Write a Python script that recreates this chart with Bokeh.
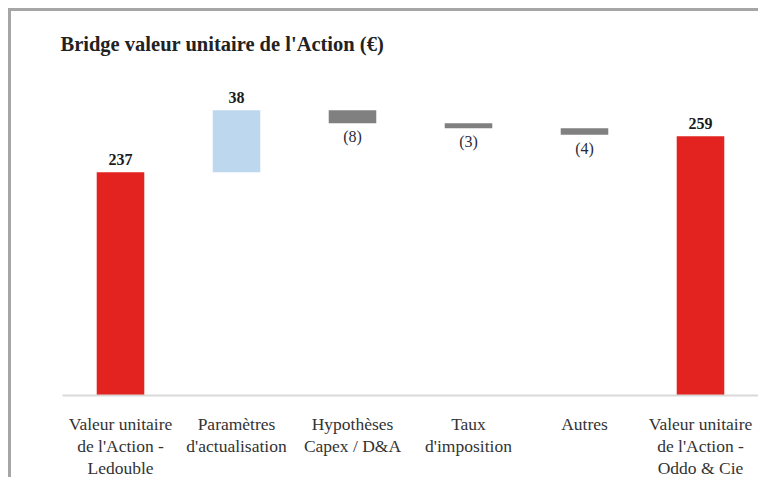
from bokeh.plotting import figure
from bokeh.models import ColumnDataSource, FactorRange
from bokeh.core.properties import value
from bokeh.embed import file_html
from bokeh.resources import INLINE

# ---- data ----
categories = [
    "Valeur unitaire\nde l'Action -\nLedouble",
    "Paramètres\nd'actualisation",
    "Hypothèses\nCapex / D&A",
    "Taux\nd'imposition",
    "Autres",
    "Valeur unitaire\nde l'Action -\nOddo & Cie",
]
values = [237, 38, -8, -3, -4, 259]
kinds = ["total", "step", "step", "step", "step", "total"]
value_labels = ["237", "38", "(8)", "(3)", "(4)", "259"]
axis_start = 100

# ---- waterfall geometry from the data ----
bottoms, tops, colors = [], [], []
running = 0
for v, k in zip(values, kinds):
    if k == "total":
        b, t = 0, v
        running = v
        colors.append("#E2231F")
    else:
        b, t = running, running + v
        running = t
        colors.append("#BDD7EE" if v > 0 else "#808080")
    bottoms.append(min(b, t))
    tops.append(max(b, t))

src = ColumnDataSource(dict(cat=categories, bottom=bottoms, top=tops, color=colors))

up_idx = [i for i, v in enumerate(values) if v > 0]
dn_idx = [i for i, v in enumerate(values) if v < 0]
up_src = ColumnDataSource(dict(cat=[categories[i] for i in up_idx],
                               y=[tops[i] for i in up_idx],
                               label=[value_labels[i] for i in up_idx]))
dn_src = ColumnDataSource(dict(cat=[categories[i] for i in dn_idx],
                               y=[bottoms[i] for i in dn_idx],
                               label=[value_labels[i] for i in dn_idx]))

p = figure(
    x_range=FactorRange(*categories),
    y_range=(axis_start, 298.8),
    width=750, height=469,
    output_backend="svg", toolbar_location=None,
    min_border_left=51, min_border_right=3,
    min_border_top=60, min_border_bottom=77,
)
p.styles = {
    "margin-left": "8px",
    "margin-top": "8px",
    "border-top": "3px solid #a6a6a6",
    "border-left": "3px solid #a6a6a6",
}

p.title.text = "Bridge valeur unitaire de l'Action (€)"
p.title.text_font = "Liberation Serif"
p.title.text_font_size = "20.5px"
p.title.text_font_style = "bold"
p.title.text_color = "#222222"
p.title.align = "left"
p.title.offset = -2
p.title.standoff = 33

p.vbar(x="cat", bottom="bottom", top="top", width=0.41, color="color", line_color=None, source=src)

p.text(x="cat", y="y", text="label", source=up_src, text_align="center", text_baseline="bottom",
       y_offset=-7, text_font=value("Liberation Serif"), text_font_size="16px",
       text_font_style="bold", text_color="#1a1a1a")
p.text(x="cat", y="y", text="label", source=dn_src, text_align="center", text_baseline="top",
       y_offset=5, text_font=value("Liberation Serif"), text_font_size="16px",
       text_color="#2a2a3a")

p.yaxis.visible = False
p.xgrid.grid_line_color = None
p.ygrid.grid_line_color = None
p.outline_line_color = None
p.xaxis.axis_line_color = "#d9d9d9"
p.xaxis.axis_line_width = 2
p.xaxis.major_tick_line_color = None
p.xaxis.minor_tick_line_color = None
p.xaxis.major_label_text_font = "Liberation Serif"
p.xaxis.major_label_text_font_size = "17.5px"
p.xaxis.major_label_text_line_height = 1.1
p.xaxis.major_label_text_color = "#333333"
p.xaxis.major_label_standoff = 12

open("out.html", "w").write(file_html(p, INLINE))
